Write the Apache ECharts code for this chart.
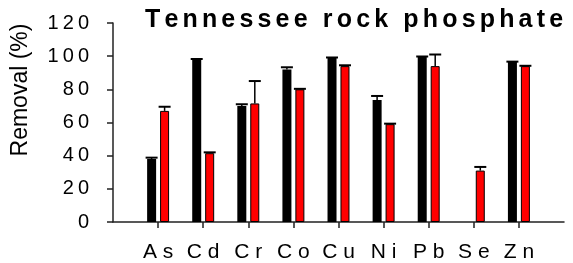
<!DOCTYPE html>
<html>
<head>
<meta charset="utf-8">
<script src="https://cdn.jsdelivr.net/npm/echarts@6/dist/echarts.min.js"></script>
<style>
html, body { margin: 0; padding: 0; background: #fff; }
#chart { width: 573px; height: 263px; }
</style>
</head>
<body>
<div id="chart"></div>
<script>
// categories padded with blank slots at both ends (the axis runs past the first and last element)
var categories = ['', 'As', 'Cd', 'Cr', 'Co', 'Cu', 'Ni', 'Pb', 'Se', 'Zn', ''];
var blackValues = [null, 38, 98, 70, 92, 99, 73.5, 99.5, null, 96.5, null];
var blackErrors = [null, 0.8, 0.3, 1, 1.3, 0.2, 2.5, 0.3, null, 0.2, null];
var redValues = [null, 67, 41.5, 71.5, 80, 94, 59, 94, 31, 94, null];
var redErrors = [null, 2.5, 0.5, 13.5, 0.3, 0.5, 0.3, 7, 2.2, 0.2, null];
var yTicks = [0, 20, 40, 60, 80, 100, 120];

// the original uses expanded character spacing
function spaced(s, sp) {
	return String(s).split('').join(sp);
}

function errData(values, errors) {
	var out = [];
	for (var i = 0; i < values.length; i++) {
		if (values[i] != null) {
			out.push([i, values[i], errors[i]]);
		}
	}
	return out;
}

function errorBar(offset) {
	return function(params, api) {
		var x = api.value(0);
		var v = api.value(1);
		var e = api.value(2);
		var base = api.coord([x, v]);
		var top = api.coord([x, v + e]);
		var cx = base[0] + offset;
		return {
			type: 'group',
			children: [
				{ type: 'line', shape: { x1: cx, y1: base[1], x2: cx, y2: top[1] }, style: { stroke: '#000', lineWidth: 1.5 } },
				{ type: 'line', shape: { x1: cx - 6, y1: top[1], x2: cx + 6, y2: top[1] }, style: { stroke: '#000', lineWidth: 2 } }
			]
		};
	};
}

var font = 'Liberation Sans, Arial, sans-serif';
var chartDom = document.getElementById('chart');
var myChart = echarts.init(chartDom);
myChart.setOption({
	animation: false,
	title: {
		text: spaced('Tennessee rock phosphate', '\u2006'),
		left: 145,
		top: 8,
		padding: 0,
		textStyle: {
			fontFamily: font,
			fontWeight: 'bold',
			fontSize: 25,
			color: '#000'
		}
	},
	grid: {
		left: 113,
		right: 9,
		top: 23,
		bottom: 41
	},
	xAxis: {
		type: 'category',
		data: categories,
		boundaryGap: false,
		axisLine: { lineStyle: { color: '#222', width: 1.5 } },
		axisTick: {
			length: 6,
			lineStyle: { color: '#222', width: 1.5 },
			interval: function(i, v) { return v !== ''; }
		},
		axisLabel: {
			interval: function(i, v) { return v !== ''; },
			formatter: function(v) { return spaced(v, ' '); },
			margin: 20,
			fontFamily: font,
			fontSize: 21,
			color: '#000'
		},
		splitLine: { show: false }
	},
	yAxis: {
		type: 'value',
		min: yTicks[0],
		max: yTicks[yTicks.length - 1],
		interval: 20,
		axisLine: { show: true, lineStyle: { color: '#222', width: 1.5 } },
		axisTick: { show: true, length: 6, lineStyle: { color: '#222', width: 1.5 } },
		axisLabel: {
			margin: 24,
			formatter: function(v) { return spaced(v, '\u2009'); },
			fontFamily: font,
			fontSize: 20,
			color: '#000'
		},
		splitLine: { show: false }
	},
	graphic: [{
		type: 'text',
		x: 21,
		y: 90,
		rotation: Math.PI / 2,
		style: {
			text: 'Removal (%)',
			fontFamily: font,
			fontSize: 23,
			fill: '#000',
			align: 'center',
			verticalAlign: 'middle'
		}
	}],
	series: [{
		type: 'bar',
		data: blackValues,
		barWidth: 9,
		barGap: '44%',
		itemStyle: { color: '#000' }
	}, {
		type: 'bar',
		data: redValues,
		barWidth: 9,
		itemStyle: { color: '#ff0000', borderColor: '#000', borderWidth: 1 }
	}, {
		type: 'custom',
		data: errData(blackValues, blackErrors),
		renderItem: errorBar(-6.5),
		z: 3
	}, {
		type: 'custom',
		data: errData(redValues, redErrors),
		renderItem: errorBar(6.5),
		z: 3
	}]
});
</script>
</body>
</html>
